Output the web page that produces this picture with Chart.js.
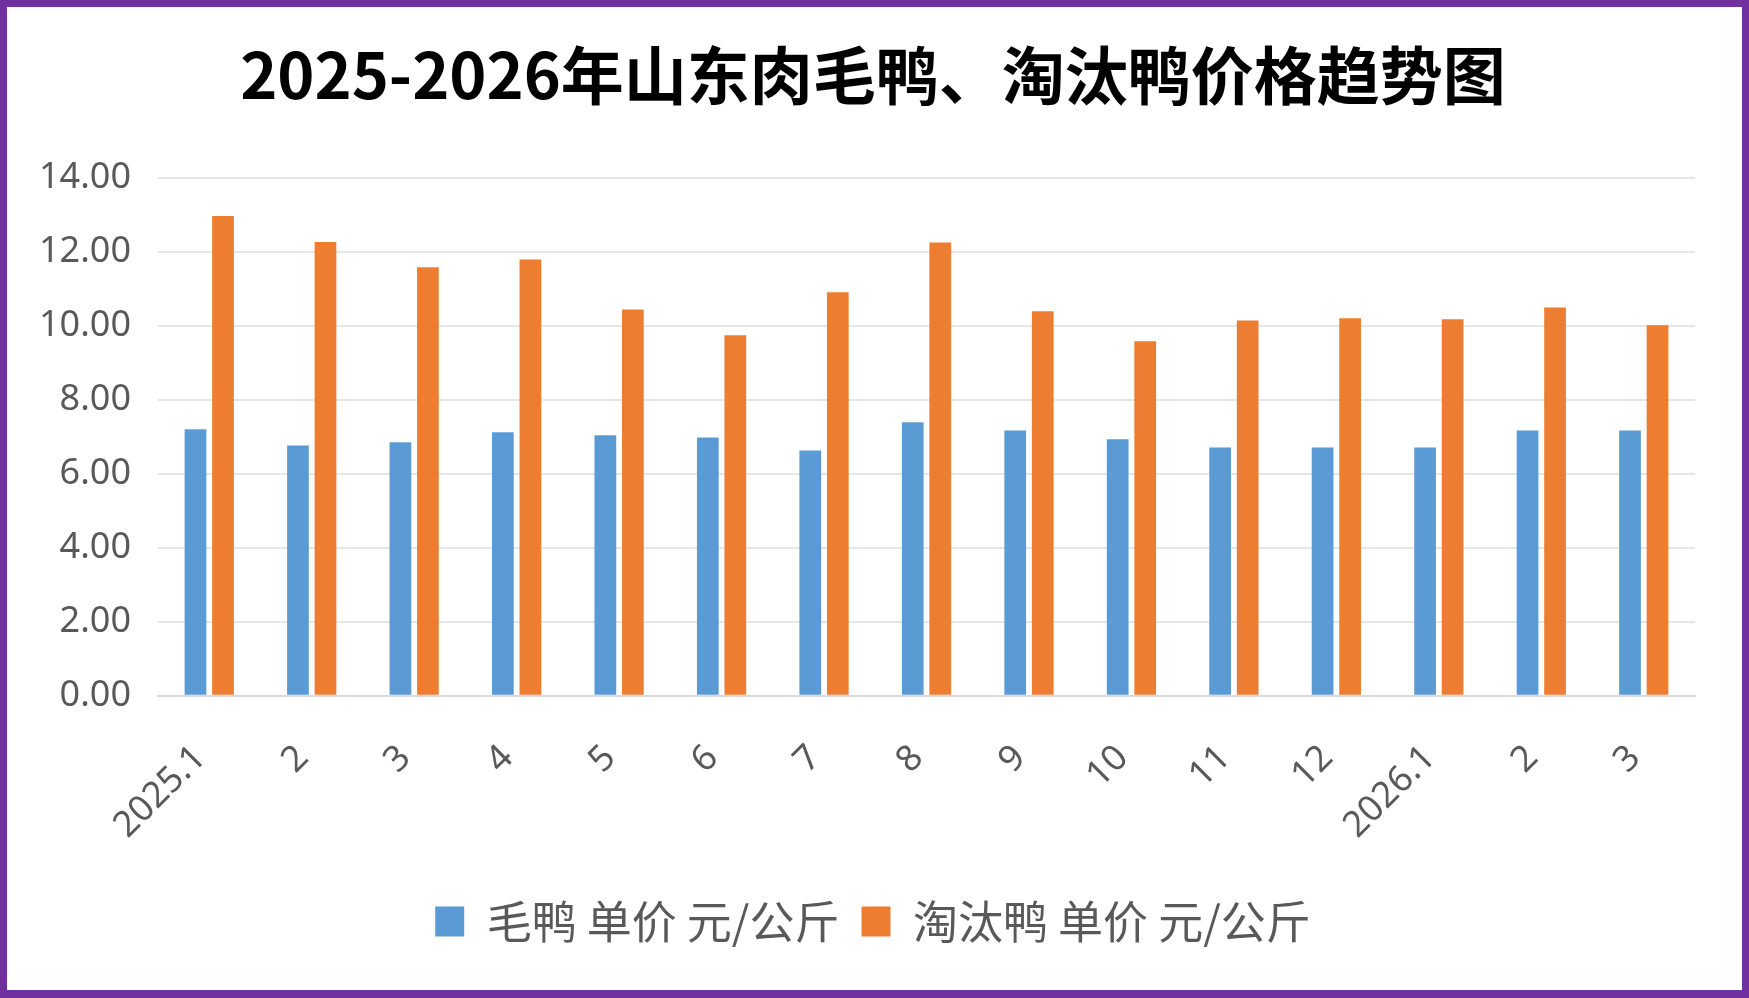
<!DOCTYPE html>
<html lang="zh-CN">
<head>
<meta charset="utf-8">
<title>2025-2026年山东肉毛鸭、淘汰鸭价格趋势图</title>
<script src="https://cdn.jsdelivr.net/npm/chart.js@4.4.1/dist/chart.umd.min.js"></script>
<style>
  html, body { margin: 0; padding: 0; background: #fff; }
  .chart-frame {
    box-sizing: border-box;
    width: 1749px;
    height: 998px;
    border: 7px solid #7030A0;
    border-bottom-width: 8px;
    background: #fff;
  }
  .chart-frame canvas { display: block; }
</style>
</head>
<body>
<div class="chart-frame">
  <canvas id="duckChart"></canvas>
</div>
<script>
// Months on the x axis
const months = ['2025.1', '2', '3', '4', '5', '6', '7', '8', '9', '10', '11', '12', '2026.1', '2', '3'];

// Prices, yuan per kg
const broilerDuck = [7.20, 6.76, 6.85, 7.12, 7.04, 6.98, 6.63, 7.39, 7.17, 6.93, 6.71, 6.71, 6.71, 7.17, 7.17];
const spentDuck = [12.96, 12.26, 11.58, 11.79, 10.44, 9.74, 10.90, 12.25, 10.39, 9.58, 10.14, 10.20, 10.17, 10.49, 10.01];

// Y axis range
const yMin = 0;
const yMax = 14;
const yStep = 2;

document.addEventListener('DOMContentLoaded', () => {
  const ctx = document.getElementById('duckChart');
  const tickColor = '#595959';

  new Chart(ctx, {
    type: 'bar',
    data: {
      labels: months,
      datasets: [
        {
          label: '毛鸭 单价 元/公斤',
          data: broilerDuck,
          backgroundColor: '#5B9BD5',
          categoryPercentage: 0.537,
          barPercentage: 0.79
        },
        {
          label: '淘汰鸭 单价 元/公斤',
          data: spentDuck,
          backgroundColor: '#ED7D31',
          categoryPercentage: 0.537,
          barPercentage: 0.79
        }
      ]
    },
    options: {
      responsive: true,
      maintainAspectRatio: false,
      animation: false,
      layout: {
        padding: { left: 31, right: 34, top: 0, bottom: 36 }
      },
      plugins: {
        title: {
          display: true,
          text: '2025-2026年山东肉毛鸭、淘汰鸭价格趋势图',
          color: '#000',
          font: { family: '"Noto Sans CJK SC", "Noto Sans", sans-serif', size: 63, weight: 'bold' },
          padding: { top: 30, bottom: 65 }
        },
        legend: {
          position: 'bottom',
          labels: {
            color: tickColor,
            boxWidth: 29,
            boxHeight: 30,
            padding: 22,
            font: { family: '"Noto Sans CJK SC", sans-serif', size: 45 }
          }
        },
        tooltip: { enabled: false }
      },
      scales: {
        x: {
          grid: { display: false },
          border: { display: true, color: '#D9D9D9', width: 2 },
          ticks: {
            color: tickColor,
            font: { family: '"Noto Sans", sans-serif', size: 36 },
            minRotation: 45,
            maxRotation: 45,
            padding: 33,
            labelOffset: -9,
            autoSkip: false
          },
          // pull the legend a little closer to the rotated labels
          afterFit: (scale) => { scale.height -= 3; }
        },
        y: {
          min: yMin,
          max: yMax,
          grid: { color: '#E6E6E6', lineWidth: 2, drawTicks: false },
          border: { display: false },
          ticks: {
            stepSize: yStep,
            color: tickColor,
            font: { family: '"Noto Sans", sans-serif', size: 36 },
            padding: 27,
            callback: (v) => v.toFixed(2)
          },
          // measured label width is a bit generous, trim the spare room
          afterFit: (scale) => { scale.width -= 26; }
        },
        // empty right-hand strip so title and legend stay centred on the frame
        yRight: {
          position: 'right',
          grid: { display: false },
          border: { display: false },
          ticks: { display: false },
          afterFit: (scale) => { scale.width = 13; }
        }
      }
    }
  });
});
</script>
</body>
</html>
